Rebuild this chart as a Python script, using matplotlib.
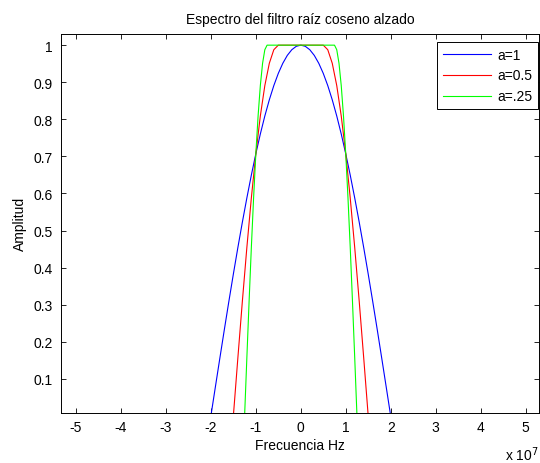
import matplotlib
matplotlib.use("Agg")
import matplotlib.pyplot as plt

# frecuencia en unidades de 1e7 Hz, amplitud
f_a1 = [-2.0, -1.9, -1.8, -1.7, -1.6, -1.5, -1.4, -1.3, -1.2, -1.1, -1.0,
        -0.9, -0.8, -0.7, -0.6, -0.5, -0.4, -0.3, -0.2, -0.1, 0.0,
        0.1, 0.2, 0.3, 0.4, 0.5, 0.6, 0.7, 0.8, 0.9, 1.0,
        1.1, 1.2, 1.3, 1.4, 1.5, 1.6, 1.7, 1.8, 1.9, 2.0]
h_a1 = [0.0, 0.0785, 0.1564, 0.2335, 0.3090, 0.3827, 0.4540, 0.5225, 0.5878, 0.6495, 0.7071,
        0.7604, 0.8090, 0.8526, 0.8910, 0.9239, 0.9511, 0.9724, 0.9877, 0.9969, 1.0,
        0.9969, 0.9877, 0.9724, 0.9511, 0.9239, 0.8910, 0.8526, 0.8090, 0.7604, 0.7071,
        0.6495, 0.5878, 0.5225, 0.4540, 0.3827, 0.3090, 0.2335, 0.1564, 0.0785, 0.0]

f_a05 = [-1.5, -1.4, -1.3, -1.2, -1.1, -1.0, -0.9, -0.8, -0.7, -0.6, -0.5,
         0.5, 0.6, 0.7, 0.8, 0.9, 1.0, 1.1, 1.2, 1.3, 1.4, 1.5]
h_a05 = [0.0, 0.1564, 0.3090, 0.4540, 0.5878, 0.7071, 0.8090, 0.8910, 0.9511, 0.9877, 1.0,
         1.0, 0.9877, 0.9511, 0.8910, 0.8090, 0.7071, 0.5878, 0.4540, 0.3090, 0.1564, 0.0]

f_a025 = [-1.25, -1.2, -1.15, -1.1, -1.05, -1.0, -0.95, -0.9, -0.85, -0.8, -0.75,
          0.75, 0.8, 0.85, 0.9, 0.95, 1.0, 1.05, 1.1, 1.15, 1.2, 1.25]
h_a025 = [0.0, 0.1564, 0.3090, 0.4540, 0.5878, 0.7071, 0.8090, 0.8910, 0.9511, 0.9877, 1.0,
          1.0, 0.9877, 0.9511, 0.8910, 0.8090, 0.7071, 0.5878, 0.4540, 0.3090, 0.1564, 0.0]

x_ticks = [-5, -4, -3, -2, -1, 0, 1, 2, 3, 4, 5]
y_ticks = [0.1, 0.2, 0.3, 0.4, 0.5, 0.6, 0.7, 0.8, 0.9, 1.0]
y_tick_labels = ['0.1', '0.2', '0.3', '0.4', '0.5', '0.6', '0.7', '0.8', '0.9', '1']

plt.rcParams['font.family'] = ['Liberation Sans', 'DejaVu Sans']
plt.rcParams['font.size'] = 10
plt.rcParams['axes.unicode_minus'] = False

fig = plt.figure(figsize=(5.4, 4.64), dpi=100)
ax = fig.add_axes([0.1125, 0.1085, 0.8857, 0.8160])

ax.plot(f_a1, h_a1, color=(0, 0, 1), lw=0.8, label='a=1')
ax.plot(f_a05, h_a05, color=(1, 0, 0), lw=0.8, label='a=0.5')
ax.plot(f_a025, h_a025, color=(0, 1, 0), lw=0.8, label='a=.25')

ax.set_xlim(-5.34, 5.30)
ax.set_ylim(0.009, 1.03)
ax.set_xticks(x_ticks)
ax.set_yticks(y_ticks)
ax.set_yticklabels(y_tick_labels)
ax.tick_params(direction='in', length=3.5, width=0.6, top=True, right=True,
               labelsize=10, pad=5.5)
for s in ax.spines.values():
    s.set_linewidth(0.7)

ax.set_title('Espectro del filtro raíz coseno alzado', fontsize=10, pad=8)
ax.set_xlabel('Frecuencia Hz', fontsize=10, labelpad=3)
ax.set_ylabel('Amplitud', fontsize=10, labelpad=5)
ax.text(1.0, -0.108, 'x 10$^7$', transform=ax.transAxes, ha='right', va='center',
        fontsize=10)

leg = ax.legend(loc='upper right', bbox_to_anchor=(0.997, 0.979), fancybox=False,
                framealpha=1, edgecolor='black', handlelength=3.5, labelspacing=0.5,
                borderaxespad=0, handletextpad=0.4, borderpad=0.4, fontsize=10)
leg.get_frame().set_linewidth(0.7)

fig.savefig('out.png', dpi=100)
